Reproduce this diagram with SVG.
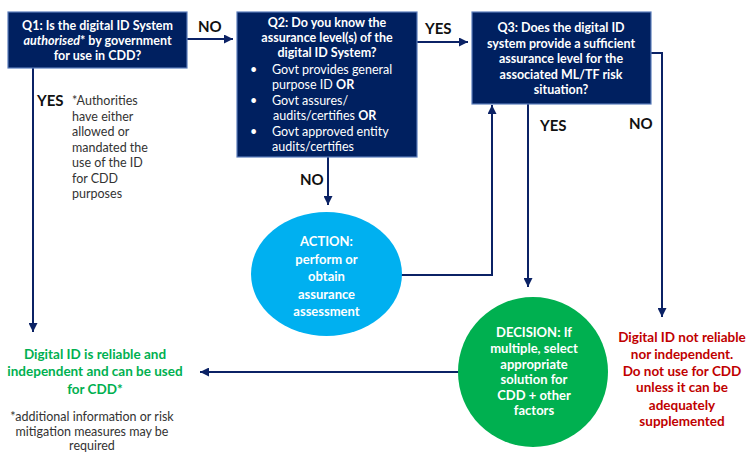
<svg xmlns="http://www.w3.org/2000/svg" width="748" height="452" viewBox="0 0 748 452">
  <defs>
    <marker id="arrow" viewBox="0 0 10 10" refX="10" refY="5" markerWidth="9" markerHeight="9" markerUnits="userSpaceOnUse" orient="auto">
      <path d="M0,0 L10,5 L0,10 z" fill="#0B2265"/>
    </marker>
    <style>
      .box { fill: #002060; stroke: #5B7DBB; stroke-width: 1.2; }
      .conn { fill: none; stroke: #0B2265; stroke-width: 2; }
      text { font-family: Lato, "Open Sans", "Liberation Sans", sans-serif; }
      .q { fill: #ffffff; font-weight: bold; font-size: 12.5px; text-anchor: middle; }
      .bul { fill: #ffffff; font-size: 12.5px; }
      .lab { fill: #111111; font-weight: bold; font-size: 15px; }
      .note { fill: #333333; font-size: 12.5px; }
      .circ { fill: #ffffff; font-weight: bold; font-size: 13px; text-anchor: middle; }
      .ok { fill: #00B050; font-weight: bold; font-size: 13.5px; text-anchor: middle; }
      .bad { fill: #C00000; font-weight: bold; font-size: 13.5px; text-anchor: middle; }
    </style>
  </defs>
  <rect width="748" height="452" fill="#ffffff"/>

  <!-- connectors -->
  <g id="connectors">
    <line class="conn" x1="187" y1="39" x2="233" y2="39" marker-end="url(#arrow)"/>
    <line class="conn" x1="417" y1="42" x2="468" y2="42" marker-end="url(#arrow)"/>
    <line class="conn" x1="33" y1="68" x2="33" y2="332" marker-end="url(#arrow)"/>
    <line class="conn" x1="328" y1="157" x2="328" y2="205" marker-end="url(#arrow)"/>
    <polyline class="conn" points="401,275 492,275 492,105" marker-end="url(#arrow)"/>
    <line class="conn" x1="528" y1="104" x2="528" y2="287" marker-end="url(#arrow)"/>
    <polyline class="conn" points="651,53 662,53 662,317" marker-end="url(#arrow)"/>
    <line class="conn" x1="459" y1="372" x2="200" y2="372" marker-end="url(#arrow)"/>
    <text class="lab" x="198" y="32">NO</text>
    <text class="lab" x="425" y="34">YES</text>
    <text class="lab" x="37" y="106">YES</text>
    <text class="lab" x="300" y="185">NO</text>
    <text class="lab" x="540" y="131">YES</text>
    <text class="lab" x="629" y="129">NO</text>
  </g>

  <!-- Q1 -->
  <g id="q1">
    <rect class="box" x="8" y="12" width="179" height="56"/>
    <text class="q" x="97.5" y="30">Q1: Is the digital ID System</text>
    <text class="q" x="97.5" y="45"><tspan font-style="italic">authorised</tspan>* by government</text>
    <text class="q" x="97.5" y="60">for use in CDD?</text>
  </g>

  <!-- Q1 footnote -->
  <g id="q1-note">
    <text class="note" x="72" y="105">*Authorities</text>
    <text class="note" x="72" y="121">have either</text>
    <text class="note" x="72" y="136">allowed or</text>
    <text class="note" x="72" y="152">mandated the</text>
    <text class="note" x="72" y="167">use of the ID</text>
    <text class="note" x="72" y="183">for CDD</text>
    <text class="note" x="72" y="198">purposes</text>
  </g>

  <!-- Q2 -->
  <g id="q2">
    <rect class="box" x="237" y="12" width="180" height="145"/>
    <text class="q" x="327" y="27">Q2: Do you know the</text>
    <text class="q" x="327" y="42">assurance level(s) of the</text>
    <text class="q" x="327" y="57">digital ID System?</text>
    <text class="bul" x="250" y="74">•</text>
    <text class="bul" x="272" y="74">Govt provides general</text>
    <text class="bul" x="272" y="89">purpose ID <tspan font-weight="bold">OR</tspan></text>
    <text class="bul" x="250" y="105">•</text>
    <text class="bul" x="272" y="105">Govt assures/</text>
    <text class="bul" x="273" y="120">audits/certifies <tspan font-weight="bold">OR</tspan></text>
    <text class="bul" x="250" y="136">•</text>
    <text class="bul" x="272" y="136">Govt approved entity</text>
    <text class="bul" x="272" y="151">audits/certifies</text>
  </g>

  <!-- Q3 -->
  <g id="q3">
    <rect class="box" x="472" y="12" width="179" height="92"/>
    <text class="q" x="561" y="32">Q3: Does the digital ID</text>
    <text class="q" x="561" y="48">system provide a sufficient</text>
    <text class="q" x="561" y="63">assurance level for the</text>
    <text class="q" x="561" y="79">associated ML/TF risk</text>
    <text class="q" x="561" y="94">situation?</text>
  </g>

  <!-- action -->
  <g id="action">
    <ellipse cx="326.5" cy="274" rx="75.5" ry="62" fill="#00B0F0"/>
    <text class="circ" x="326.5" y="246">ACTION:</text>
    <text class="circ" x="326.5" y="264">perform or</text>
    <text class="circ" x="326.5" y="281">obtain</text>
    <text class="circ" x="326.5" y="299">assurance</text>
    <text class="circ" x="326.5" y="316">assessment</text>
  </g>

  <!-- decision -->
  <g id="decision">
    <circle cx="533" cy="372" r="75" fill="#00B050"/>
    <text class="circ" x="534" y="337">DECISION: If</text>
    <text class="circ" x="534" y="353">multiple, select</text>
    <text class="circ" x="534" y="369">appropriate</text>
    <text class="circ" x="534" y="384">solution for</text>
    <text class="circ" x="534" y="400">CDD + other</text>
    <text class="circ" x="534" y="415">factors</text>
  </g>

  <!-- reliable outcome -->
  <g id="reliable">
    <text class="ok" x="95" y="359">Digital ID is reliable and</text>
    <text class="ok" x="95" y="376">independent and can be used</text>
    <text class="ok" x="95" y="394">for CDD*</text>
    <text class="note" x="92" y="421" text-anchor="middle">*additional information or risk</text>
    <text class="note" x="92" y="436" text-anchor="middle">mitigation measures may be</text>
    <text class="note" x="92" y="450" text-anchor="middle">required</text>
  </g>

  <!-- not reliable outcome -->
  <g id="not-reliable">
    <text class="bad" x="682" y="342">Digital ID not reliable</text>
    <text class="bad" x="682" y="359">nor independent.</text>
    <text class="bad" x="682" y="376">Do not use for CDD</text>
    <text class="bad" x="682" y="392">unless it can be</text>
    <text class="bad" x="682" y="410">adequately</text>
    <text class="bad" x="682" y="426">supplemented</text>
  </g>
</svg>
